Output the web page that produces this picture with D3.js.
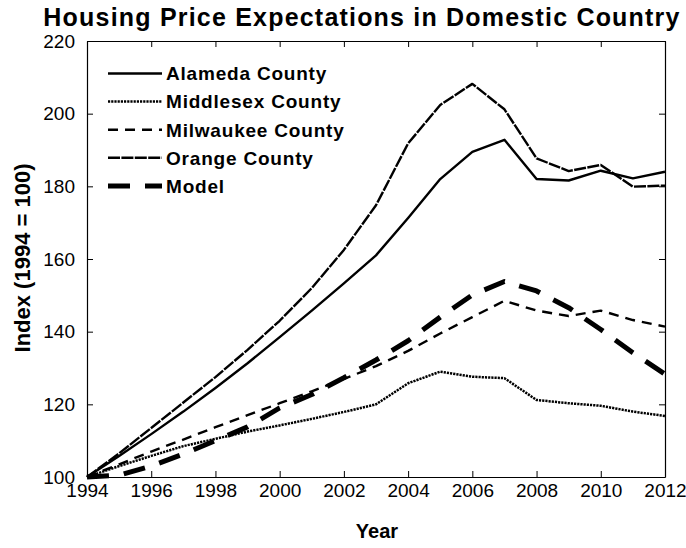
<!DOCTYPE html>
<html><head><meta charset="utf-8">
<script src="https://cdn.jsdelivr.net/npm/d3@7"></script>
<style>body{margin:0;background:#fff}text{font-family:"Liberation Sans",Arial,sans-serif;fill:#000}</style>
</head><body><svg id="c" width="686" height="548"></svg>
<script>
const years     = [1994,1995,1996,1997,1998,1999,2000,2001,2002,2003,2004,2005,2006,2007,2008,2009,2010,2011,2012];
const alameda   = [100,105.8,111.8,118,124.5,131.3,138.5,145.8,153.3,161,171.3,182,189.5,192.8,182,181.6,184.3,182.2,184];
const middlesex = [100,103,105.8,108.5,110.5,112.5,114.2,116,117.9,120,125.8,129,127.6,127.2,121.2,120.3,119.6,118,116.8];
const milwaukee = [100,103.5,107,110.3,113.7,117,120.3,123.6,127,130.5,134.7,139.5,144,148.5,145.8,144.3,145.8,143.2,141.4];
const orange    = [100,106.5,113.5,120.5,127.5,135,143,152,162.5,174.8,191.8,202.4,208.2,201.2,187.7,184.2,185.9,179.9,180.2];
const model     = [100,100.5,103,106.3,110,113.8,119,122.7,127.3,132.2,137.5,144,150.1,153.8,151.2,146.6,140.6,134.2,128.3];
const seriesNames = ["Alameda County","Middlesex County","Milwaukee County","Orange County","Model"];
const xTicks = [1994,1996,1998,2000,2002,2004,2006,2008,2010,2012];
const yTicks = [100,120,140,160,180,200,220];

const seriesData = [alameda, middlesex, milwaukee, orange, model];
const styles = [
  {w:2.4, dash:null},
  {w:2.5, dash:"2.2,1"},
  {w:2.4, dash:"10,7"},
  {w:2.4, dash:"12,1.4"},
  {w:5, dash:"22,15"}
];

const svg = d3.select('#c');
const L=87, R=665, T=41, B=477;
const x = d3.scaleLinear().domain([1994,2012]).range([L,R]);
const y = d3.scaleLinear().domain([100,220]).range([B,T]);

// axes
const fmt = d3.format('d');
svg.append('g').attr('transform',`translate(0,${B})`)
  .call(d3.axisBottom(x).tickValues(xTicks).tickFormat(fmt).tickSizeInner(-6).tickSizeOuter(0).tickPadding(7));
svg.append('g').attr('transform',`translate(0,${T})`)
  .call(d3.axisTop(x).tickValues(xTicks).tickFormat('').tickSizeInner(-6).tickSizeOuter(0));
svg.append('g').attr('transform',`translate(${L},0)`)
  .call(d3.axisLeft(y).tickValues(yTicks).tickFormat(fmt).tickSizeInner(-6).tickSizeOuter(0).tickPadding(12));
svg.append('g').attr('transform',`translate(${R},0)`)
  .call(d3.axisRight(y).tickValues(yTicks).tickFormat('').tickSizeInner(-6).tickSizeOuter(0));
svg.selectAll('.domain').attr('stroke','#000').attr('stroke-width',1.2);
svg.selectAll('.tick line').attr('stroke','#000');
svg.selectAll('.tick text').style('font-size','19px').style('font-family','"Liberation Sans",Arial,sans-serif').attr('fill','#000');

// lines
const line = d3.line().x((d,i)=>x(years[i])).y(d=>y(d));
seriesData.forEach((s,i)=>{
  svg.append('path').datum(s).attr('d',line).attr('fill','none')
    .attr('stroke','#000').attr('stroke-width',styles[i].w)
    .attr('stroke-dasharray',styles[i].dash).attr('stroke-linejoin','round');
});

// legend
const lg = svg.append('g');
seriesNames.forEach((n,i)=>{
  const yy = 73.5 + i*28.1;
  lg.append('line').attr('x1',108).attr('x2',162).attr('y1',yy).attr('y2',yy)
    .attr('stroke','#000').attr('stroke-width',styles[i].w).attr('stroke-dasharray',styles[i].dash);
  lg.append('text').attr('x',166).attr('y',yy).attr('dy','0.36em')
    .style('font-size','19px').style('font-weight','bold').style('letter-spacing','0.8px').text(n);
});

// titles
svg.append('text').attr('x',362).attr('y',26).attr('text-anchor','middle')
  .style('font-size','25px').style('font-weight','bold').style('letter-spacing','1.2px')
  .text('Housing Price Expectations in Domestic Country');
svg.append('text').attr('x',377).attr('y',538).attr('text-anchor','middle')
  .style('font-size','20px').style('font-weight','bold').text('Year');
svg.append('text').attr('transform','translate(30,258) rotate(-90)').attr('text-anchor','middle')
  .style('font-size','22px').style('font-weight','bold').text('Index (1994 = 100)');
</script></body></html>
